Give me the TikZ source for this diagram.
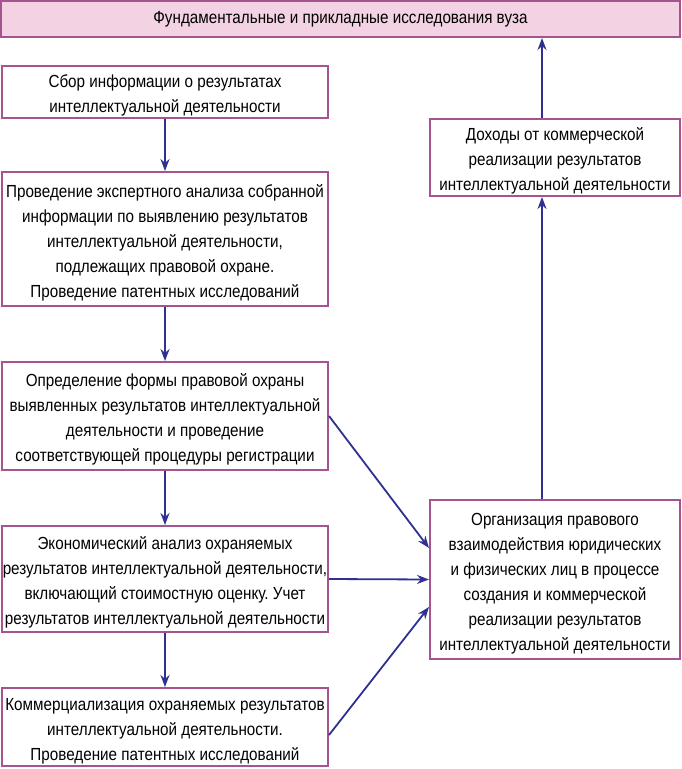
\documentclass[tikz,border=0pt]{standalone}
\usepackage{fontspec}
\setmainfont{Liberation Sans}[FakeStretch=0.87]
\usetikzlibrary{arrows.meta}
\frenchspacing
\definecolor{bord}{HTML}{A5548F}
\definecolor{topfill}{HTML}{F3D2E3}
\definecolor{arr}{HTML}{2E3190}
\newcommand{\topstrut}{\rule{0pt}{20pt}}
\tikzset{
  box/.style={draw=bord, line width=2pt, fill=white, minimum width=#1, inner sep=0pt, align=center, font=\fontsize{17.5pt}{25pt}\selectfont},
  box/.default=326pt,
  conn/.style={draw=arr, line width=1.8pt, -{Stealth[length=12pt,width=9pt]}}
}
\begin{document}
\begin{tikzpicture}[x=1pt,y=-1pt]
\useasboundingbox (0,0) rectangle (681,769);
\node[box=679pt, fill=topfill, minimum height=36pt] (top) at (340.5,19) {Фундаментальные и прикладные исследования вуза};
\node[box, minimum height=52pt] (b1) at (165,92) {\topstrut Сбор информации о результатах\\интеллектуальной деятельности};
\node[box, minimum height=134pt] (b2) at (165,239) {\topstrut Проведение экспертного анализа собранной\\информации по выявлению результатов\\интеллектуальной деятельности,\\подлежащих правовой охране.\\Проведение патентных исследований};
\node[box, minimum height=108pt] (b3) at (165,416) {\topstrut Определение формы правовой охраны\\выявленных результатов интеллектуальной\\деятельности и проведение\\соответствующей процедуры регистрации};
\node[box, minimum height=106pt] (b4) at (165,579) {\topstrut Экономический анализ охраняемых\\результатов интеллектуальной деятельности,\\включающий стоимостную оценку. Учет\\результатов интеллектуальной деятельности};
\node[box, minimum height=78pt] (b5) at (165,727) {\topstrut Коммерциализация охраняемых результатов\\интеллектуальной деятельности.\\Проведение патентных исследований};
\node[box=250pt, minimum height=77pt] (doh) at (555,157.5) {\topstrut Доходы от коммерческой\\реализации результатов\\интеллектуальной деятельности};
\node[box=250pt, minimum height=159pt] (org) at (555,579.5) {\topstrut Организация правового\\взаимодействия юридических\\и физических лиц в процессе\\создания и коммерческой\\реализации результатов\\интеллектуальной деятельности};
\coordinate (rx) at (542,0);
\coordinate (e3) at (429,548);
\coordinate (e5) at (429,607);
\draw[conn] (b1) -- (b2);
\draw[conn] (b2) -- (b3);
\draw[conn] (b3) -- (b4);
\draw[conn] (b4) -- (b5);
\draw[conn] (org.north -| rx) -- (doh.south -| rx);
\draw[conn] (doh.north -| rx) -- (top.south -| rx);
\draw[conn] (b3.east) -- (e3);
\draw[conn] (b4.east) -- (org.west);
\draw[conn] ([yshift=-8pt]b5.east) -- (e5);
\end{tikzpicture}
\end{document}
